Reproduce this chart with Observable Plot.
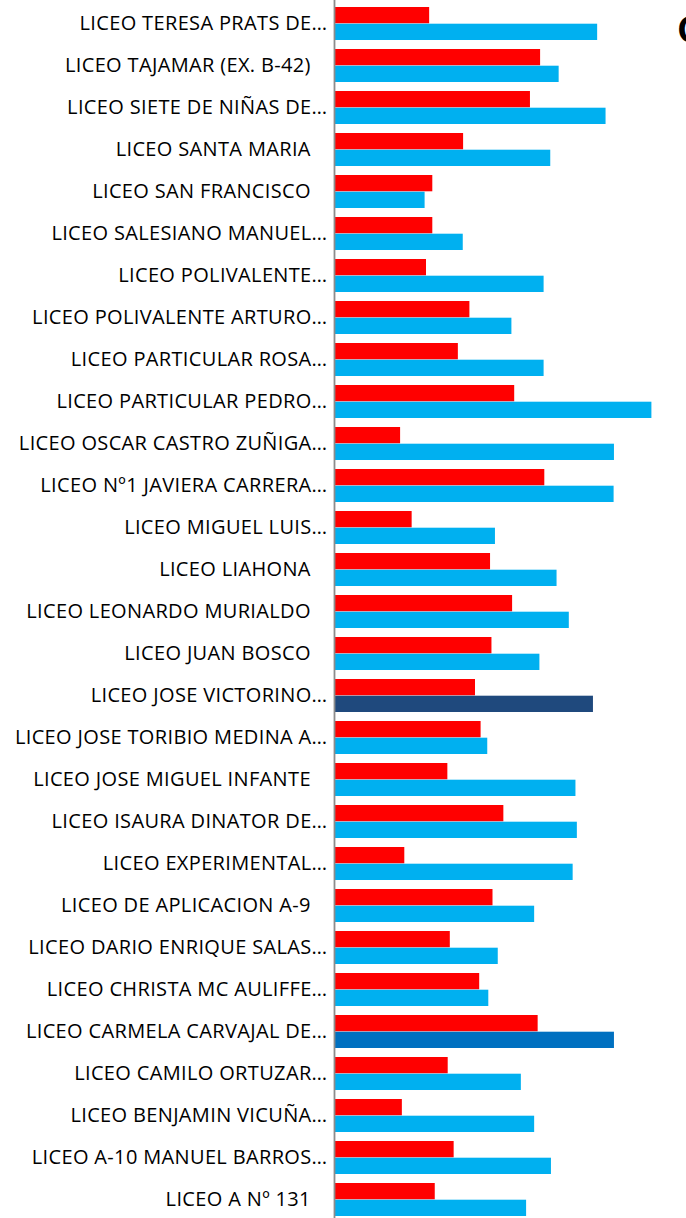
<!DOCTYPE html>
<html>
<head>
<meta charset="utf-8">
<script src="https://cdn.jsdelivr.net/npm/d3@7"></script>
<script src="https://cdn.jsdelivr.net/npm/@observablehq/plot@0.6"></script>
<style>
  html, body { margin: 0; padding: 0; overflow: hidden; background: #fff; }
  #wrap { position: relative; width: 686px; height: 1218px; }
  #title { position: absolute; left: 677px; top: 10.5px; font: bold 36px/36px "Open Sans", sans-serif; color: #000; white-space: nowrap; }
</style>
</head>
<body>
<div id="wrap">
  <div id="chart"></div>
  <div id="title">C</div>
</div>
<script>
const schools = [
  "LICEO TERESA PRATS DE…",
  "LICEO TAJAMAR (EX. B-42)",
  "LICEO SIETE DE NIÑAS DE…",
  "LICEO SANTA MARIA",
  "LICEO SAN FRANCISCO",
  "LICEO SALESIANO MANUEL…",
  "LICEO POLIVALENTE…",
  "LICEO POLIVALENTE ARTURO…",
  "LICEO PARTICULAR ROSA…",
  "LICEO PARTICULAR PEDRO…",
  "LICEO OSCAR CASTRO ZUÑIGA…",
  "LICEO Nº1 JAVIERA CARRERA…",
  "LICEO MIGUEL LUIS…",
  "LICEO LIAHONA",
  "LICEO LEONARDO MURIALDO",
  "LICEO JUAN BOSCO",
  "LICEO JOSE VICTORINO…",
  "LICEO JOSE TORIBIO MEDINA A…",
  "LICEO JOSE MIGUEL INFANTE",
  "LICEO ISAURA DINATOR DE…",
  "LICEO EXPERIMENTAL…",
  "LICEO DE APLICACION A-9",
  "LICEO DARIO ENRIQUE SALAS…",
  "LICEO CHRISTA MC AULIFFE…",
  "LICEO CARMELA CARVAJAL DE…",
  "LICEO CAMILO ORTUZAR…",
  "LICEO BENJAMIN VICUÑA…",
  "LICEO A-10 MANUEL BARROS…",
  "LICEO A Nº 131"
];

const redValues = [
  26.9, 58.6, 55.7, 36.6, 27.8, 27.8, 26.0, 38.4, 35.1, 51.2,
  18.6, 59.8, 21.9, 44.3, 50.6, 44.7, 40.0, 41.6, 32.1, 48.1,
  19.8, 45.0, 32.8, 41.2, 57.9, 32.2, 19.1, 33.9, 28.5
];

const blueValues = [
  74.9, 63.9, 77.3, 61.5, 25.6, 36.5, 59.6, 50.4, 59.6, 90.4,
  79.7, 79.6, 45.7, 63.3, 66.8, 58.4, 73.7, 43.5, 68.7, 69.1,
  67.9, 56.9, 46.5, 43.8, 79.7, 53.1, 56.9, 61.7, 54.6
];

// colour styling (kept apart from the data)
const RED = "#FF0000";
const BLUE = "#00B0F0";
const specialBlue = new Map([
  ["LICEO JOSE VICTORINO…", "#1F497D"],
  ["LICEO CARMELA CARVAJAL DE…", "#0070C0"]
]);

const rows = schools.map((s, i) => ({school: s, red: redValues[i], blue: blueValues[i]}));

const half = 16.7;
const chart = Plot.plot({
  width: 686,
  height: 1218,
  marginLeft: 335,
  marginRight: 0,
  marginTop: 0,
  marginBottom: 0,
  x: {domain: [0, 100], range: [335, 685], axis: null},
  y: {domain: schools, range: [-4, 1227], paddingInner: 0.2076, paddingOuter: 0.2076, align: 0.5, axis: null},
  style: {fontFamily: "'Open Sans', sans-serif", background: "#fff", overflow: "hidden"},
  marks: [
    Plot.barX(rows, {x: "red", y: "school", fill: RED, insetBottom: half}),
    Plot.barX(rows, {x: "blue", y: "school", fill: d => specialBlue.get(d.school) ?? BLUE, insetTop: half}),
    Plot.ruleX([0], {stroke: "#8c8c8c", strokeWidth: 1.8, dx: -1}),
    Plot.axisY({
      anchor: "left",
      tickSize: 0,
      tickPadding: 8,
      fontSize: 20,
      fill: "#000",
      label: null,
      tickFormat: d => d.endsWith("…") ? d : d + "\u00a0\u00a0\u00a0"
    })
  ]
});
chart.style.letterSpacing = "0.35px";
document.getElementById("chart").appendChild(chart);
</script>
</body>
</html>
